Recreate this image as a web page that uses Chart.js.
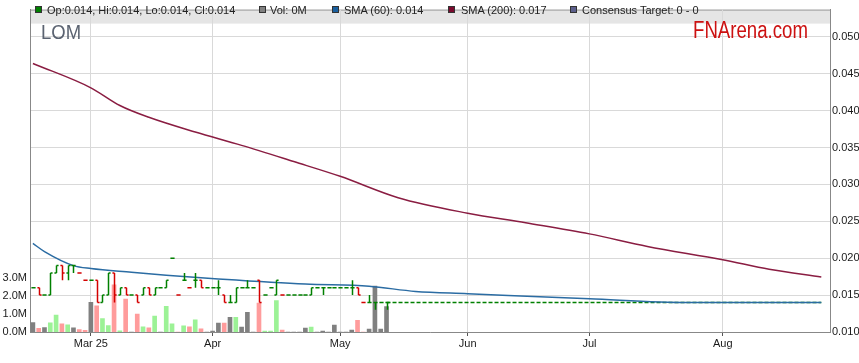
<!DOCTYPE html>
<html>
<head>
<meta charset="utf-8">
<title>LOM</title>
<script src="https://cdn.jsdelivr.net/npm/chart.js@4.4.1/dist/chart.umd.min.js"></script>
<style>
  html, body { margin: 0; padding: 0; background: #fff; }
  #wrap { position: relative; width: 859px; height: 363px; font-family: Arial, "Liberation Sans", sans-serif; }
  #wrap canvas { position: absolute; left: 0; top: 0; }
  .lg { position: absolute; top: 3px; height: 14px; line-height: 14px; font-size: 11px; color: #222; white-space: nowrap; }
  .sq { position: absolute; top: 6px; width: 7px; height: 7px; box-sizing: border-box; border: 1px solid #333; }
  #code { position: absolute; left: 41px; top: 20px; font-size: 21px; line-height: 24px; color: #5b6371; transform: scaleX(0.88); transform-origin: left top; }
  #brand { position: absolute; left: 693px; top: 17px; font-size: 23px; line-height: 26px; color: #cc1111; white-space: nowrap; transform: scaleX(0.81); transform-origin: left top; }
</style>
</head>
<body>
<div id="wrap">
  <canvas id="chart" width="859" height="363"></canvas>
  <span class="sq" style="left:35px;background:#008000"></span>
  <span class="lg" style="left:47px">Op:0.014, Hi:0.014, Lo:0.014, Cl:0.014</span>
  <span class="sq" style="left:259px;background:#808080"></span>
  <span class="lg" style="left:270px">Vol: 0M</span>
  <span class="sq" style="left:332px;background:#1a5f9e"></span>
  <span class="lg" style="left:344px">SMA (60): 0.014</span>
  <span class="sq" style="left:448px;background:#7a0a2e"></span>
  <span class="lg" style="left:461px">SMA (200): 0.017</span>
  <span class="sq" style="left:570px;background:#5c5f8c"></span>
  <span class="lg" style="left:582px">Consensus Target: 0 - 0</span>
  <div id="code">LOM</div>
  <div id="brand">FNArena.com</div>
</div>
<script>
// trading calendar (weekdays) shown on the x axis
const dates = [];
for (let d = new Date(Date.UTC(2025, 1, 17)); d <= new Date(Date.UTC(2025, 7, 27)); d.setUTCDate(d.getUTCDate() + 1)) {
  const wd = d.getUTCDay();
  if (wd !== 0 && wd !== 6) dates.push(d.toISOString().slice(0, 10));
}

const tickDates = ['2025-03-03', '2025-04-01', '2025-05-01', '2025-06-02', '2025-07-01', '2025-08-01'];
const tickLabels = ['Mar 25', 'Apr', 'May', 'Jun', 'Jul', 'Aug'];

// daily prices, 17 Feb - 13 May 2025
const priceOpen  = [0.016,0.016,0.015,0.015,0.018,0.019,0.018,0.019,0.018,0.017,
                    0.017,0.017,0.014,0.015,0.018,0.015,0.016,0.015,0.015,0.015,
                    0.016,0.015,0.016,0.016,0.020,0.015,0.017,0.016,0.017,0.017,
                    0.016,0.016,0.016,0.015,0.014,0.014,0.016,0.016,0.016,0.017,
                    0.015,0.016,0.015,0.015,0.015,0.015,0.015,0.015,0.015,0.016,
                    0.016,0.016,0.016,0.016,0.016,0.016,0.016,0.014,0.014,0.014,
                    0.014,0.014];
const priceHigh  = [0.016,0.016,0.015,0.018,0.019,0.019,0.019,0.019,0.018,0.017,
                    0.017,0.017,0.015,0.018,0.018,0.016,0.016,0.015,0.015,0.016,
                    0.016,0.016,0.016,0.017,0.020,0.015,0.018,0.016,0.018,0.017,
                    0.016,0.016,0.017,0.015,0.015,0.016,0.016,0.017,0.016,0.017,
                    0.015,0.016,0.017,0.015,0.015,0.015,0.015,0.015,0.016,0.016,
                    0.016,0.016,0.016,0.016,0.016,0.017,0.016,0.014,0.015,0.014,
                    0.014,0.014];
const priceLow   = [0.016,0.015,0.015,0.015,0.018,0.017,0.017,0.018,0.018,0.017,
                    0.017,0.014,0.014,0.015,0.014,0.015,0.015,0.015,0.014,0.015,
                    0.015,0.015,0.016,0.016,0.020,0.015,0.017,0.016,0.016,0.016,
                    0.016,0.016,0.015,0.014,0.014,0.014,0.016,0.016,0.016,0.014,
                    0.015,0.016,0.015,0.015,0.015,0.015,0.015,0.015,0.015,0.016,
                    0.015,0.016,0.016,0.016,0.016,0.015,0.015,0.014,0.014,0.013,
                    0.014,0.013];
const priceClose = [0.016,0.015,0.015,0.018,0.019,0.018,0.019,0.019,0.018,0.017,
                    0.017,0.014,0.015,0.018,0.015,0.016,0.015,0.015,0.014,0.016,
                    0.015,0.016,0.016,0.017,0.020,0.015,0.017,0.016,0.017,0.016,
                    0.016,0.016,0.016,0.014,0.014,0.016,0.016,0.016,0.016,0.014,
                    0.015,0.016,0.017,0.015,0.015,0.015,0.015,0.015,0.016,0.016,
                    0.016,0.016,0.016,0.016,0.016,0.016,0.015,0.014,0.014,0.014,
                    0.014,0.014];
// volume in millions of shares
const volume     = [0.52,0.20,0.25,0.50,0.94,0.45,0.40,0.23,0.13,0.09,
                    1.64,1.44,0.74,0.36,2.61,0.07,1.82,0,0.99,0.29,
                    0.23,0.88,0,1.42,0.45,0,0.34,0.29,0.67,0.18,
                    0,0.05,0.49,0.49,0.81,0.81,0.27,1.08,0,1.59,
                    0.05,0.05,1.73,0.11,0,0,0,0.22,0.27,0,
                    0.05,0,0.38,0,0,0.11,0.65,0,0.16,2.54,
                    0.16,1.41];

const sma60Dates  = ['2025-02-17','2025-02-19','2025-02-26','2025-03-03','2025-03-12','2025-03-20','2025-04-02',
                     '2025-04-23','2025-05-08','2025-05-20','2025-06-02','2025-07-01','2025-07-24','2025-08-26'];
const sma60Values = [0.0220,0.0209,0.0190,0.0186,0.0181,0.0177,0.0172,
                     0.0165,0.0162,0.0155,0.0152,0.0145,0.0140,0.0140];
const sma200Dates  = ['2025-02-17','2025-03-03','2025-03-10','2025-03-17','2025-03-27','2025-04-08','2025-04-21','2025-05-01',
                      '2025-05-15','2025-06-02','2025-06-16','2025-07-01','2025-07-15','2025-08-01','2025-08-13','2025-08-26'];
const sma200Values = [0.0464,0.0431,0.0407,0.0391,0.0371,0.0353,0.0331,0.0311,
                      0.0282,0.0261,0.0248,0.0233,0.0216,0.0198,0.0185,0.01745];

const volTicks = [0, 1, 2, 3];

const lastClose = priceClose[priceClose.length - 1];

const volColors = priceClose.map((c, i) => {
  if (i === 0 || c === priceClose[i - 1]) return '#808080';
  return c > priceClose[i - 1] ? '#9cf296' : '#ff9c9c';
});

// grey strip behind the legend
const bandPlugin = {
  id: 'band',
  beforeDraw(chart) {
    const { ctx, chartArea: a } = chart;
    ctx.save();
    ctx.fillStyle = '#e5e5e5';
    ctx.fillRect(a.left, a.top, a.right - a.left, 14);
    ctx.strokeStyle = '#999';
    ctx.lineWidth = 1;
    ctx.beginPath();
    ctx.moveTo(a.left, a.top + 0.5);
    ctx.lineTo(a.right, a.top + 0.5);
    ctx.stroke();
    ctx.restore();
  }
};

// open/high/low/close bars
const ohlcPlugin = {
  id: 'ohlc',
  afterDatasetsDraw(chart) {
    const { ctx, scales: { x, y } } = chart;
    const half = (x.getPixelForValue(1) - x.getPixelForValue(0)) * 0.36;
    ctx.save();
    ctx.lineWidth = 1.5;
    priceClose.forEach((c, i) => {
      const px = Math.round(x.getPixelForValue(i)) + 0.5;
      const yo = y.getPixelForValue(priceOpen[i]);
      const yh = y.getPixelForValue(priceHigh[i]);
      const yl = y.getPixelForValue(priceLow[i]);
      const yc = y.getPixelForValue(c);
      ctx.strokeStyle = i > 0 && c < priceClose[i - 1] ? '#d40000' : '#008000';
      ctx.beginPath();
      if (priceHigh[i] !== priceLow[i]) {
        ctx.moveTo(px, yh);
        ctx.lineTo(px, yl);
      }
      ctx.moveTo(px - half, yo);
      ctx.lineTo(px, yo);
      ctx.moveTo(px, yc);
      ctx.lineTo(px + half, yc);
      ctx.stroke();
    });
    ctx.restore();
  }
};

const axisFont = { family: 'Arial, "Liberation Sans", sans-serif', size: 11 };

new Chart(document.getElementById('chart'), {
  data: {
    labels: dates,
    datasets: [
      {
        type: 'line',
        label: 'SMA (200)',
        data: sma200Dates.map((d, i) => ({ x: d, y: sma200Values[i] })),
        yAxisID: 'y',
        borderColor: '#8a1d42',
        borderWidth: 1.5,
        pointRadius: 0,
        cubicInterpolationMode: 'monotone'
      },
      {
        type: 'line',
        label: 'SMA (60)',
        data: sma60Dates.map((d, i) => ({ x: d, y: sma60Values[i] })),
        yAxisID: 'y',
        borderColor: '#2b6ca3',
        borderWidth: 1.5,
        pointRadius: 0,
        cubicInterpolationMode: 'monotone'
      },
      {
        type: 'line',
        label: 'Last close',
        data: [{ x: dates[priceClose.length - 1], y: lastClose }, { x: sma60Dates.at(-1), y: lastClose }],
        yAxisID: 'y',
        borderColor: '#008000',
        borderWidth: 1.5,
        borderDash: [4, 2],
        pointRadius: 0
      },
      {
        type: 'bar',
        label: 'Vol',
        data: volume,
        yAxisID: 'yv',
        backgroundColor: volColors,
        barThickness: 4
      }
    ]
  },
  options: {
    responsive: false,
    animation: false,
    layout: { padding: { top: 3 } },
    plugins: { legend: { display: false }, tooltip: { enabled: false } },
    scales: {
      x: {
        type: 'category',
        offset: true,
        grid: { offset: false, color: '#d9d9d9', tickLength: 4, tickColor: '#555' },
        border: { color: '#888' },
        ticks: {
          autoSkip: false,
          maxRotation: 0,
          padding: 1,
          color: '#1a1a1a',
          font: axisFont,
          callback: (v) => tickLabels[tickDates.indexOf(dates[v])]
        },
        afterBuildTicks: (s) => { s.ticks = s.ticks.filter(t => tickDates.includes(dates[t.value])); },
        afterFit: (s) => { s.height = 31; }
      },
      y: {
        position: 'right',
        min: 0.010,
        max: 0.0537,
        grid: { color: '#d9d9d9', drawTicks: false },
        border: { color: '#888' },
        ticks: {
          stepSize: 0.005,
          padding: 2,
          color: '#1a1a1a',
          font: axisFont,
          callback: (v) => v.toFixed(3)
        },
        afterBuildTicks: (s) => { s.ticks = s.ticks.filter(t => Math.abs(t.value * 200 - Math.round(t.value * 200)) < 1e-6); },
        afterFit: (s) => { s.width = 29; }
      },
      yv: {
        position: 'left',
        min: 0,
        max: 17.8,
        grid: { display: false, drawTicks: false },
        border: { color: '#888' },
        ticks: {
          padding: 3,
          color: '#1a1a1a',
          font: axisFont,
          callback: (v) => v.toFixed(1) + 'M'
        },
        afterBuildTicks: (s) => { s.ticks = volTicks.map(v => ({ value: v })); },
        afterFit: (s) => { s.width = 30; }
      }
    }
  },
  plugins: [bandPlugin, ohlcPlugin]
});
</script>
</body>
</html>
